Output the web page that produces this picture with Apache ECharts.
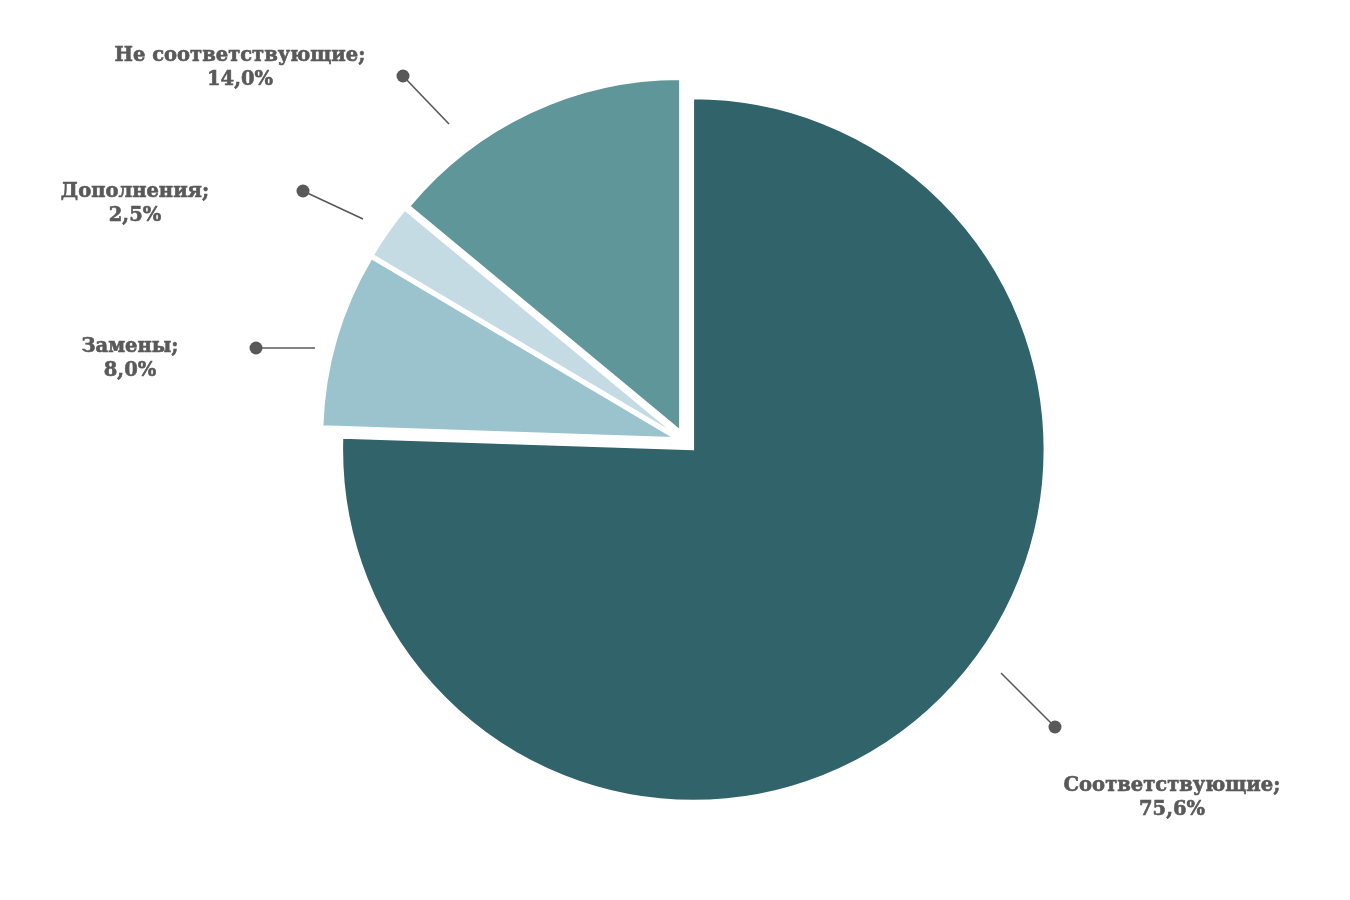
<!DOCTYPE html>
<html>
<head>
<meta charset="utf-8">
<script src="https://cdn.jsdelivr.net/npm/echarts@6/dist/echarts.min.js"></script>
<style>
html,body{margin:0;padding:0;background:#fff;}
#chart{width:1350px;height:900px;}
</style>
</head>
<body>
<div id="chart"></div>
<script>
// Data
var categories = ['Соответствующие', 'Замены', 'Дополнения', 'Не соответствующие'];
var values = [75.6, 8.0, 2.5, 14.0];
var colors = ['#31636B', '#9BC3CD', '#C4DBE3', '#5E9699'];

// Label layout (presentation only): text centre and leader line [from, to(dot)]
var labelPos = [[1172, 798], [130, 359], [135, 204], [240, 68]];
var leaderLines = [
  [[1001, 673], [1055, 727]],
  [[315, 348], [256, 348]],
  [[363, 219], [303, 191]],
  [[449, 124], [403, 76]]
];

function fmt(v) { return v.toFixed(1).replace('.', ',') + '%'; }

var chart = echarts.init(document.getElementById('chart'), null, {renderer: 'canvas'});

var data = categories.map(function (c, i) {
  return {name: c, value: values[i], selected: true, itemStyle: {color: colors[i]}};
});

var graphics = [];
leaderLines.forEach(function (l, i) {
  graphics.push({
    type: 'polyline',
    shape: {points: l},
    style: {stroke: '#595959', lineWidth: 1.6, fill: null},
    z: 100
  });
  graphics.push({
    type: 'circle',
    shape: {cx: l[1][0], cy: l[1][1], r: 6.5},
    style: {fill: '#595959'},
    z: 101
  });
  graphics.push({
    type: 'text',
    z: 102,
    style: {
      text: categories[i] + ';\n' + fmt(values[i]),
      x: labelPos[i][0],
      y: labelPos[i][1],
      align: 'center',
      verticalAlign: 'middle',
      font: 'bold 19.5px "DejaVu Serif"',
      lineHeight: 24.5,
      fill: '#595959',
      stroke: '#595959',
      lineWidth: 0.6
    }
  });
});

chart.setOption({
  backgroundColor: '#ffffff',
  animation: false,
  graphic: graphics,
  series: [{
    type: 'pie',
    center: [685, 441],
    radius: 351,
    startAngle: 90,
    clockwise: true,
    selectedMode: 'multiple',
    selectedOffset: 12,
    emphasis: {disabled: true},
    itemStyle: {borderColor: '#ffffff', borderWidth: 1.5},
    data: data,
    label: {show: false},
    labelLine: {show: false}
  }]
});
</script>
</body>
</html>
